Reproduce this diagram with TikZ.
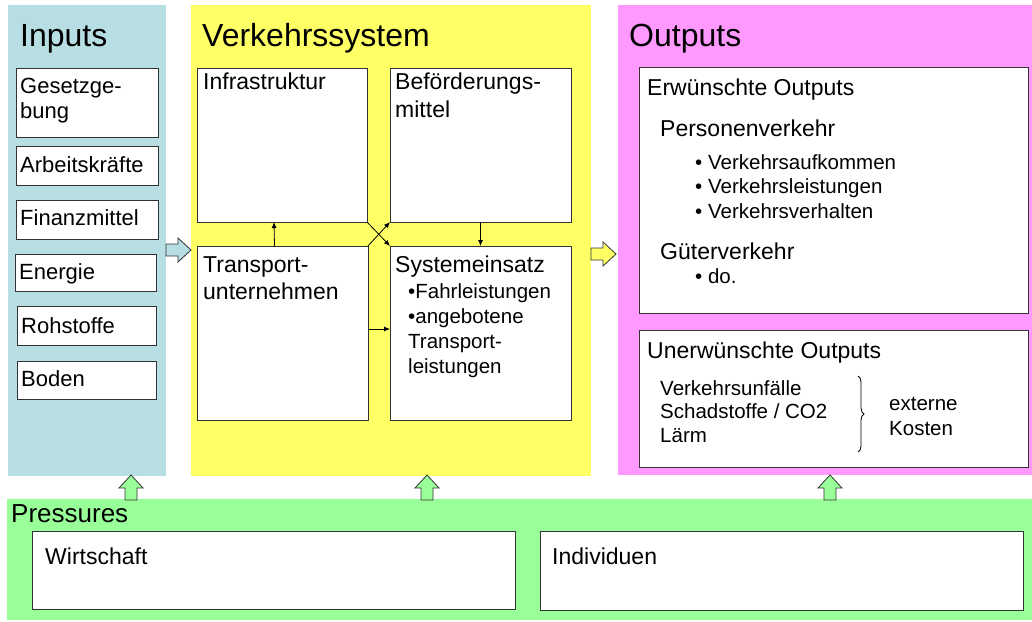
\documentclass[tikz,border=0pt]{standalone}
\usepackage{fontspec}
\setmainfont{Liberation Sans}
\usetikzlibrary{arrows.meta,decorations.pathreplacing}

\definecolor{inblue}{RGB}{183,222,226}
\definecolor{vsyellow}{RGB}{255,255,102}
\definecolor{outpink}{RGB}{255,153,255}
\definecolor{prgreen}{RGB}{153,255,153}

% lines stacked below the first baseline
\newcommand{\toplines}[1]{\vtop{\halign{##\hfil\cr#1\crcr}}}

\tikzset{
  panel/.style={anchor=north west, inner sep=0pt, outer sep=0pt},
  box/.style={draw=black!80, fill=white, line width=1pt, anchor=north west, inner sep=0pt, outer sep=0pt},
  title/.style={anchor=base west, inner sep=0pt, font=\fontsize{32}{38}\selectfont},
  lbl/.style={anchor=base west, inner sep=0pt, font=\fontsize{22}{25}\selectfont},
  item/.style={lbl, font=\fontsize{20.5}{24.5}\selectfont},
  flow/.style={-{Latex[length=6pt,width=5pt]}, line width=0.8pt},
  blockarrow/.pic={
    \draw[pic actions, line width=0.8pt, draw=black!80]
      (0,-6) -- (12,-6) -- (12,-12) -- (25,0) -- (12,12) -- (12,6) -- (0,6) -- cycle;
  }
}

\begin{document}
\begin{tikzpicture}[x=1pt, y=-1pt]
\useasboundingbox (0,0) rectangle (1032,621);

% panels
\node[panel, fill=inblue, minimum width=158pt, minimum height=471pt] (inputs) at (8,5) {};
\node[panel, fill=vsyellow, minimum width=400pt, minimum height=471pt] (vsys) at (191,5) {};
\node[panel, fill=outpink, minimum width=414pt, minimum height=470pt] (outputs) at (618,5) {};
\node[panel, fill=prgreen, minimum width=1025pt, minimum height=121pt] (pressures) at (7,499) {};

\node[title] (tinputs) at (20,46) {Inputs};
\node[title] (tvsys) at (202,46) {Verkehrssystem};
\node[title] (toutputs) at (629,46) {Outputs};
\node[title, font=\fontsize{26}{30}\selectfont] (tpressures) at (11,522) {Pressures};

% inputs
\node[box, minimum width=142pt, minimum height=69pt] (gesetz) at (16,68) {};
\node[box, minimum width=142pt, minimum height=39pt] (arbeit) at (16,146) {};
\node[box, minimum width=142pt, minimum height=39pt] (finanz) at (16,200) {};
\node[box, minimum width=141pt, minimum height=37pt] (energie) at (15,254) {};
\node[box, minimum width=139pt, minimum height=39pt] (rohstoffe) at (17,306) {};
\node[box, minimum width=139pt, minimum height=38pt] (boden) at (17,361) {};
\node[lbl] (lgesetz) at (20,93) {\toplines{Gesetzge-\cr bung}};
\node[lbl] (larbeit) at (20,172) {Arbeitskräfte};
\node[lbl] (lfinanz) at (20,225) {Finanzmittel};
\node[lbl] (lenergie) at (19,279) {Energie};
\node[lbl] (lrohstoffe) at (21,333) {Rohstoffe};
\node[lbl] (lboden) at (21,386) {Boden};

% verkehrssystem
\node[box, minimum width=170pt, minimum height=154pt] (infra) at (197,68) {};
\node[box, minimum width=181pt, minimum height=154pt] (befoerd) at (390,68) {};
\node[box, minimum width=171pt, minimum height=174pt] (transp) at (197,246) {};
\node[box, minimum width=181pt, minimum height=174pt] (sysein) at (390,246) {};
\node[lbl, font=\fontsize{23}{28}\selectfont] (linfra) at (203,89) {Infrastruktur};
\node[lbl, font=\fontsize{23}{28}\selectfont] (lbefoerd) at (395,89) {\toplines{Beförderungs-\cr mittel}};
\node[lbl, font=\fontsize{23}{27}\selectfont] (ltransp) at (203,272) {\toplines{Transport-\cr unternehmen}};
\node[lbl, font=\fontsize{23}{27}\selectfont] (lsysein) at (395,272) {Systemeinsatz};
\node[item, font=\fontsize{20.5}{25}\selectfont] (lsysitems) at (408,298)
  {\toplines{•Fahrleistungen\cr •angebotene\cr Transport-\cr leistungen}};

\draw[flow] ([xshift=-8pt]transp.north) -- ([xshift=-8pt]infra.south);
\draw[flow] (befoerd.south) -- (sysein.north);
\draw[flow] ([yshift=4pt]transp.east) -- ([yshift=4pt]sysein.west);
\draw[flow] (infra.south east) -- (sysein.north west);
\draw[flow] (transp.north east) -- (befoerd.south west);

% outputs
\node[box, minimum width=389pt, minimum height=246pt] (erw) at (639,67) {};
\node[box, minimum width=389pt, minimum height=137pt] (unerw) at (639,330) {};
\node[lbl, font=\fontsize{23}{27}\selectfont] (lerw) at (647,95) {Erwünschte Outputs};
\node[lbl, font=\fontsize{23}{27}\selectfont] (lperson) at (660,136) {Personenverkehr};
\node[item, font=\fontsize{20.5}{24.5}\selectfont] (lpersitems) at (695,169)
  {\toplines{• Verkehrsaufkommen\cr • Verkehrsleistungen\cr • Verkehrsverhalten}};
\node[lbl, font=\fontsize{23}{27}\selectfont] (lgueter) at (660,259) {Güterverkehr};
\node[item] (lgueteritem) at (695,283) {• do.};
\node[lbl, font=\fontsize{23}{27}\selectfont] (lunerw) at (647,358) {Unerwünschte Outputs};
\node[item, font=\fontsize{20.5}{23.5}\selectfont] (lunerwitems) at (660,395)
  {\toplines{Verkehrsunfälle\cr Schadstoffe / CO2\cr Lärm}};
\coordinate (brtop) at (858,376);
\coordinate (brbot) at (858,452);
\draw[decorate, decoration={brace, amplitude=6pt}, line width=0.8pt] (brtop) -- (brbot);
\node[item, font=\fontsize{20.5}{25}\selectfont] (lextern) at (889,410) {\toplines{externe\cr Kosten}};

% pressures
\node[box, minimum width=483pt, minimum height=78pt] (wirt) at (32,531) {};
\node[box, minimum width=483pt, minimum height=79pt] (indiv) at (540,531) {};
\node[lbl, font=\fontsize{23}{27}\selectfont] (lwirt) at (45,564) {Wirtschaft};
\node[lbl, font=\fontsize{23}{27}\selectfont] (lindiv) at (552,564) {Individuen};

% block arrows
\pic[fill=inblue] at (166,250) {blockarrow};
\pic[fill=vsyellow] at (591,254) {blockarrow};
\pic[fill=prgreen, rotate=90] at (131,500) {blockarrow};
\pic[fill=prgreen, rotate=90] at (427,500) {blockarrow};
\pic[fill=prgreen, rotate=90] at (830,500) {blockarrow};
\end{tikzpicture}
\end{document}
